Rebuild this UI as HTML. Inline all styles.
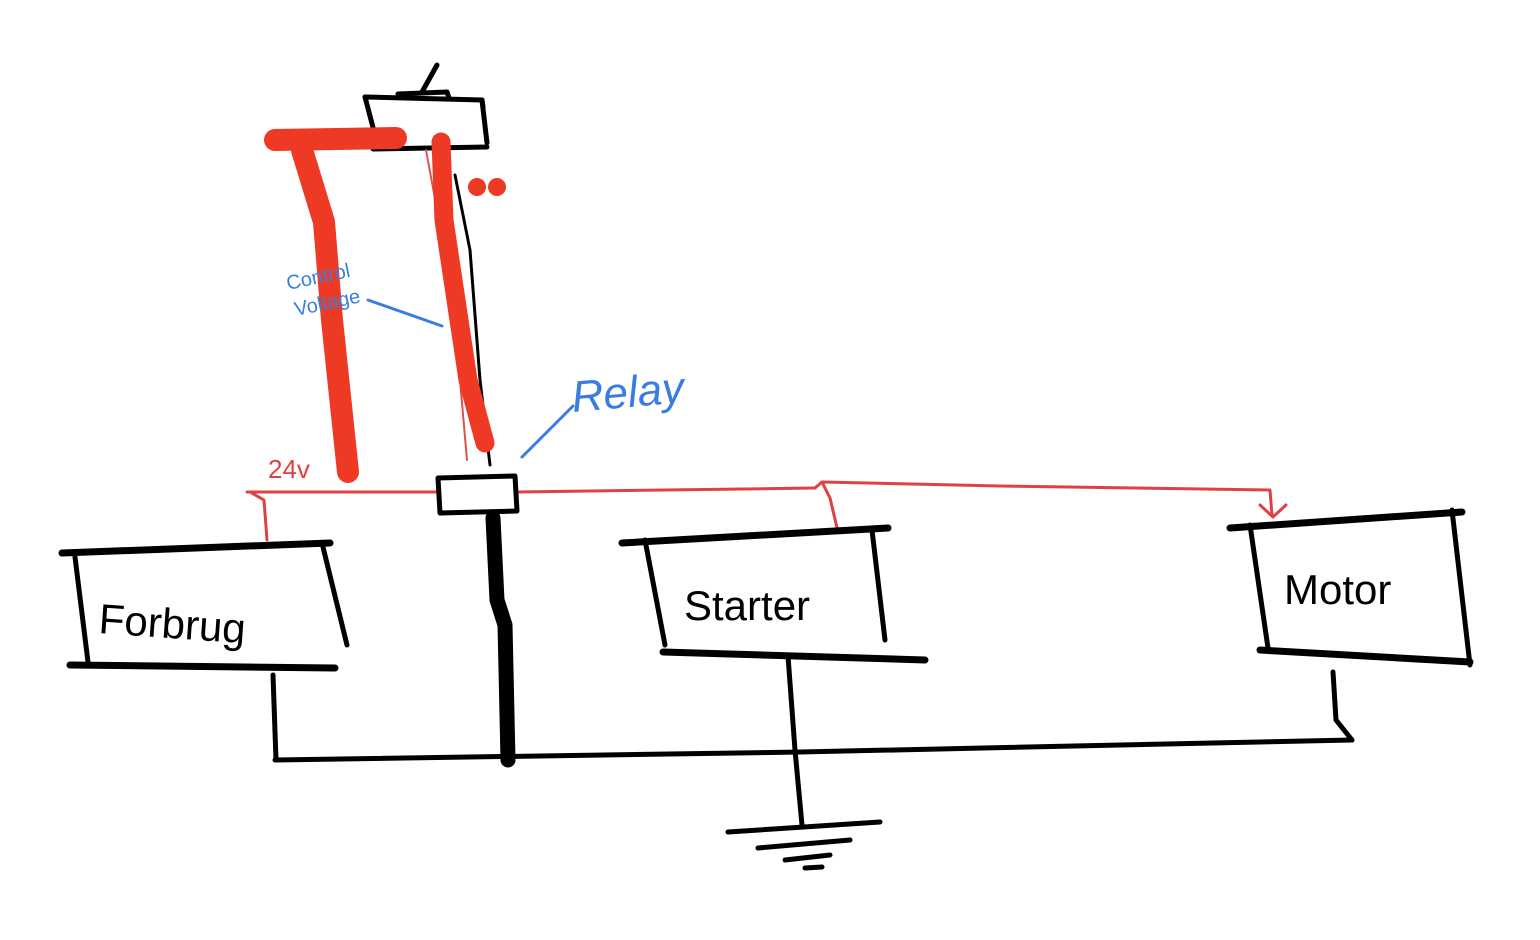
<!DOCTYPE html>
<html><head><meta charset="utf-8"><style>
html,body{margin:0;padding:0;background:#fff;}
svg{display:block;}
text{font-family:"Liberation Sans",sans-serif;}
</style></head><body>
<svg width="1540" height="940" viewBox="0 0 1540 940" xmlns="http://www.w3.org/2000/svg" fill="none" stroke-linecap="round" stroke-linejoin="round">
<rect width="1540" height="940" fill="#fff" stroke="none"/>
<!-- switch -->
<g stroke="#000" stroke-width="5">
<path d="M437,65 L422,92"/>
<path d="M398,94 L447,92 L449,98"/>
<path d="M365,97 L482,100 L483,107"/>
<path d="M482,100 L487,143"/>
<path d="M365,97 L375,135"/>
<path d="M373,149 L487,147"/>
</g>
<!-- thin lines -->
<path d="M426,150 L450,280 L460,380 L467,460" stroke="#e05050" stroke-width="2"/>
<path d="M455,175 L470,250 L480,380 L490,465" stroke="#000" stroke-width="3"/>
<!-- red thick -->
<g stroke="#ee3a24" stroke-width="22">
<path d="M275,140 L396,138"/>
<path d="M302,150 L324,222 L332,320 L348,472"/>
<path d="M441,142 L444,220 L468,380 L485,443" stroke-width="19"/>
</g>
<circle cx="477" cy="187" r="9" fill="#ee3a24"/>
<circle cx="497" cy="187" r="9" fill="#ee3a24"/>
<!-- blue annotations -->
<path d="M368,300 L442,326" stroke="#3a7de0" stroke-width="3"/>
<path d="M522,457 L573,406" stroke="#3a7de0" stroke-width="3"/>
<text x="288" y="290" font-size="20" fill="#3a7de0" transform="rotate(-12 288 290)" stroke="none">Control</text>
<text x="296" y="316" font-size="20" fill="#3a7de0" transform="rotate(-12 296 316)" stroke="none">Voltage</text>
<text x="573" y="412" font-size="44" fill="#3a7de0" font-style="italic" transform="rotate(-5 573 412)" stroke="none">Relay</text>
<text x="268" y="478" font-size="26" fill="#e04040" stroke="none">24v</text>
<!-- red bus -->
<g stroke="#e04040" stroke-width="3">
<path d="M247,492 L438,492"/>
<path d="M250,492 L264,500 L267,540"/>
<path d="M517,492 L815,488"/>
<path d="M815,488 L822,482 L1000,486 L1270,490 L1272,515"/>
<path d="M822,482 L830,498 L838,532"/>
<path d="M1260,505 L1273,517 L1286,505"/>
</g>
<!-- relay box -->
<path d="M438,478 L515,476 L517,511 L440,513 Z" stroke="#000" stroke-width="5"/>
<!-- thick black -->
<path d="M493,518 L497,600 L505,625 L508,760" stroke="#000" stroke-width="15"/>
<!-- boxes -->
<g stroke="#000" stroke-width="5">
<path d="M62,553 L330,543" stroke-width="7"/>
<path d="M75,557 L88,662"/>
<path d="M322,543 L347,645"/>
<path d="M70,665 L335,668" stroke-width="7"/>
<path d="M622,543 L888,528" stroke-width="7"/>
<path d="M645,540 L665,645"/>
<path d="M872,530 L885,640"/>
<path d="M663,652 L925,660" stroke-width="7"/>
<path d="M1230,528 L1462,512" stroke-width="7"/>
<path d="M1250,525 L1268,648"/>
<path d="M1452,510 L1470,665"/>
<path d="M1260,650 L1470,662" stroke-width="7"/>
</g>
<text x="98" y="633" font-size="42" fill="#000" transform="rotate(4 98 633)" stroke="none">Forbrug</text>
<text x="684" y="620" font-size="42" fill="#000" stroke="none">Starter</text>
<text x="1284" y="604" font-size="42" fill="#000" stroke="none">Motor</text>
<!-- ground bus -->
<g stroke="#000" stroke-width="5">
<path d="M275,760 L800,752 L1352,740"/>
<path d="M273,675 L276,760"/>
<path d="M1333,672 L1336,720 L1352,740"/>
<path d="M788,656 L795,750 L802,825"/>
<path d="M728,832 L880,822"/>
<path d="M758,848 L850,840"/>
<path d="M785,860 L830,855"/>
<path d="M805,868 L822,867"/>
</g>
</svg>
</body></html>
